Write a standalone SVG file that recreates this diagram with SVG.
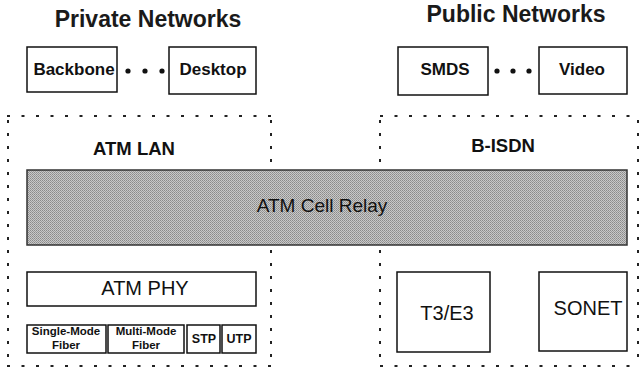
<svg xmlns="http://www.w3.org/2000/svg" width="641" height="369" viewBox="0 0 641 369">
<defs>
<style>
.box{fill:#fff;stroke:#111;stroke-width:1.5}
.dot{fill:none;stroke:#222;stroke-width:2;stroke-dasharray:3 11.5}
.vdot{fill:none;stroke:#222;stroke-width:2;stroke-dasharray:3 10}
.title{font-family:"Liberation Sans",Arial,sans-serif;font-weight:bold;font-size:23px;fill:#1a1a1a;text-anchor:middle}
.lbl{font-family:"Liberation Sans",Arial,sans-serif;font-weight:bold;font-size:17px;fill:#111;text-anchor:middle}
.reg{font-family:"Liberation Sans",Arial,sans-serif;font-size:20px;fill:#111;text-anchor:middle}
.sm{font-family:"Liberation Sans",Arial,sans-serif;font-weight:bold;font-size:11.5px;fill:#111;text-anchor:middle}
</style>
<pattern id="ht" width="2" height="2" patternUnits="userSpaceOnUse">
<rect width="2" height="2" fill="#c8c8c8"/>
<rect width="1" height="1" fill="#8a8a8a"/>
<rect x="1" y="1" width="1" height="1" fill="#9a9a9a"/>
</pattern>
</defs>
<rect width="641" height="369" fill="#fff"/>

<text class="title" x="148" y="27">Private Networks</text>
<text class="title" x="516" y="22">Public Networks</text>

<g id="connectors">
<g fill="#111">
<circle cx="128" cy="71" r="2.6"/><circle cx="145" cy="71" r="2.6"/><circle cx="162" cy="71" r="2.6"/>
<circle cx="497" cy="71" r="2.6"/><circle cx="513" cy="71" r="2.6"/><circle cx="529" cy="71" r="2.6"/>
</g>
</g>

<g id="backbone"><rect class="box" x="27" y="47" width="90" height="45"/><text class="lbl" x="74" y="75">Backbone</text></g>
<g id="desktop"><rect class="box" x="169" y="47" width="87" height="47"/><text class="lbl" x="213" y="75">Desktop</text></g>
<g id="smds"><rect class="box" x="398" y="47" width="90" height="48"/><text class="lbl" x="445" y="75">SMDS</text></g>
<g id="video"><rect class="box" x="539" y="47" width="88" height="47"/><text class="lbl" x="582" y="75">Video</text></g>

<g id="atm-lan">
<path class="dot" d="M7 116 H272"/>
<path class="dot" d="M7 366 H272"/>
<path class="vdot" d="M8 120 V366"/>
<path class="vdot" d="M271 120 V366"/>
<text class="lbl" x="134" y="155" style="font-size:18.5px">ATM LAN</text>
</g>
<g id="b-isdn">
<path class="dot" d="M380 116 H640"/>
<path class="dot" d="M380 366 H640"/>
<path class="vdot" d="M380 120 V366"/>
<path class="vdot" d="M638 120 V366"/>
<text class="lbl" x="503" y="152" style="font-size:18.5px">B-ISDN</text>
</g>

<g id="atm-cell-relay">
<rect x="27" y="170" width="600" height="75" fill="url(#ht)" stroke="#333" stroke-width="1.5"/>
<text class="reg" x="322" y="212" style="font-size:19px">ATM Cell Relay</text>
</g>

<g id="atm-phy"><rect class="box" x="27" y="272" width="229" height="34"/><text class="reg" x="145" y="295">ATM PHY</text></g>
<g id="single-mode"><rect class="box" x="27" y="325" width="79" height="28"/><text class="sm" x="66" y="335">Single-Mode</text><text class="sm" x="66" y="349">Fiber</text></g>
<g id="multi-mode"><rect class="box" x="108" y="325" width="76" height="28"/><text class="sm" x="146" y="335">Multi-Mode</text><text class="sm" x="146" y="349">Fiber</text></g>
<g id="stp"><rect class="box" x="187" y="325" width="33" height="28"/><text class="sm" x="204" y="343" style="font-size:12.5px">STP</text></g>
<g id="utp"><rect class="box" x="222" y="325" width="34" height="28"/><text class="sm" x="239" y="343" style="font-size:12.5px">UTP</text></g>

<g id="t3e3"><rect class="box" x="397" y="272" width="93" height="80"/><text class="reg" x="447" y="320">T3/E3</text></g>
<g id="sonet"><rect class="box" x="539" y="272" width="88" height="79"/><text class="reg" x="588" y="315">SONET</text></g>
</svg>
